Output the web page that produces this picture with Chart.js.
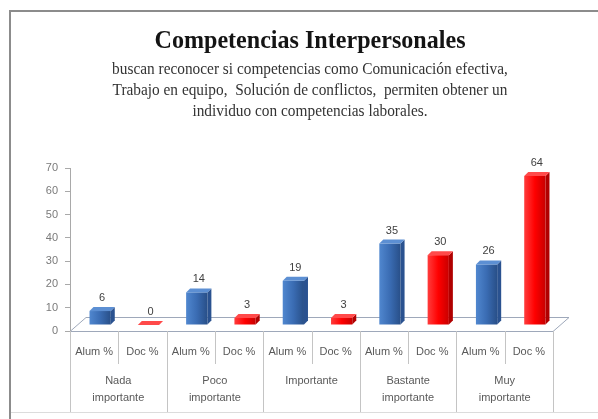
<!DOCTYPE html>
<html>
<head>
<meta charset="utf-8">
<script src="https://cdn.jsdelivr.net/npm/chart.js@4.4.1/dist/chart.umd.min.js"></script>
<style>
  html, body { margin: 0; padding: 0; background: #fff; }
  #wrap { width: 598px; height: 419px; position: relative; }
</style>
</head>
<body>
<div id="wrap"><canvas id="chart"></canvas></div>
<script>
// groups along the x axis (two-line labels) and the two series inside each group
const categories = [['Nada', 'importante'], ['Poco', 'importante'], ['Importante'], ['Bastante', 'importante'], ['Muy', 'importante']];
const seriesNames = ['Alum %', 'Doc %'];
const alumValues = [6, 14, 19, 35, 26];
const docValues = [0, 3, 3, 30, 64];
const yTicks = { min: 0, max: 70, step: 10 };

const titleText = 'Competencias Interpersonales';
const subtitleLines = [
  'buscan reconocer si competencias como Comunicación efectiva,',
  'Trabajo en equipo,  Solución de conflictos,  permiten obtener un',
  'individuo con competencias laborales.'
];

const seriesColors = ['#3a6cb3', '#ff0000'];
// light / mid / dark shades for the faces of each 3d column
const shades = {
  '#3a6cb3': { light: '#5087cf', dark: '#284f88', top: '#5c8fd3', side: '#2a5290' },
  '#ff0000': { light: '#ff3c3c', dark: '#c80000', top: '#ff4a4a', side: '#b00000' }
};

// interleave the two series per group
const labels = [], values = [], colors = [];
categories.forEach((c, i) => {
  labels.push(seriesNames[0]); values.push(alumValues[i]); colors.push(seriesColors[0]);
  labels.push(seriesNames[1]); values.push(docValues[i]); colors.push(seriesColors[1]);
});

const DEPTH = 4;      // extrusion of the column top / side
const SHIFT = 6;      // columns sit half way back on the floor
const FLOOR_DX = 16, FLOOR_DY = 14;
const TITLE_CX = 310;

function condensedText(ctx, text, x, y, font, color, scaleX) {
  ctx.save();
  ctx.font = font;
  ctx.fillStyle = color;
  ctx.textAlign = 'center';
  ctx.textBaseline = 'alphabetic';
  ctx.translate(x, y);
  ctx.scale(scaleX, 1);
  ctx.fillText(text, 0, 0);
  ctx.restore();
}

const pageFrame = {
  id: 'pageFrame',
  beforeDraw(chart) {
    const { ctx, width, height } = chart;
    ctx.save();
    ctx.fillStyle = '#fff';
    ctx.fillRect(0, 0, width, height);
    // slide border
    ctx.fillStyle = '#8c8c8c';
    ctx.fillRect(9, 10, 2, height - 10);
    ctx.fillRect(9, 10, width - 9, 2);
    ctx.fillStyle = '#dcdcdc';
    ctx.fillRect(11, 412, width - 11, 1);
    ctx.restore();

    // heading
    ctx.save();
    ctx.font = 'bold 25px "Liberation Serif"';
    const w = ctx.measureText(titleText).width;
    ctx.restore();
    condensedText(ctx, titleText, TITLE_CX, 48, 'bold 25px "Liberation Serif"', '#141414', 311 / w);

    const baselines = [74, 95, 116];
    subtitleLines.forEach((line, i) => {
      condensedText(ctx, line, TITLE_CX, baselines[i], '16.5px "Liberation Serif"', '#333333', 0.93);
    });
  }
};

const bars3d = {
  id: 'bars3d',
  beforeDatasetsDraw(chart) {
    const { ctx, chartArea } = chart;
    const yBase = chart.scales.y.getPixelForValue(0);

    // floor
    ctx.save();
    ctx.strokeStyle = '#9ea8ba';
    ctx.lineWidth = 1;
    ctx.beginPath();
    ctx.moveTo(chartArea.left, yBase + 0.5);
    ctx.lineTo(chartArea.right, yBase + 0.5);
    ctx.lineTo(chartArea.right + FLOOR_DX, yBase - FLOOR_DY + 0.5);
    ctx.lineTo(chartArea.left + FLOOR_DX, yBase - FLOOR_DY + 0.5);
    ctx.closePath();
    ctx.stroke();

    const meta = chart.getDatasetMeta(0);
    const bg = chart.data.datasets[0].backgroundColor;
    meta.data.forEach((bar, i) => {
      const p = bar.getProps(['x', 'y', 'base', 'width'], true);
      const s = shades[bg[i]];
      const l = p.x - p.width / 2 + SHIFT, r = p.x + p.width / 2 + SHIFT;
      const t = p.y - SHIFT, b = p.base - SHIFT;

      // side
      ctx.fillStyle = s.side;
      ctx.beginPath();
      ctx.moveTo(r, t); ctx.lineTo(r + DEPTH, t - DEPTH);
      ctx.lineTo(r + DEPTH, b - DEPTH); ctx.lineTo(r, b);
      ctx.closePath(); ctx.fill();

      // front
      if (b - t > 0) {
        const g = ctx.createLinearGradient(l, 0, r, 0);
        g.addColorStop(0, s.light);
        g.addColorStop(0.5, bg[i]);
        g.addColorStop(1, s.dark);
        ctx.fillStyle = g;
        ctx.fillRect(l, t, r - l, b - t);
      }

      // top
      ctx.fillStyle = s.top;
      ctx.beginPath();
      ctx.moveTo(l, t); ctx.lineTo(l + DEPTH, t - DEPTH);
      ctx.lineTo(r + DEPTH, t - DEPTH); ctx.lineTo(r, t);
      ctx.closePath(); ctx.fill();
    });
    ctx.restore();
    return false;
  },
  afterDraw(chart) {
    const { ctx, chartArea } = chart;
    const meta = chart.getDatasetMeta(0);
    const vals = chart.data.datasets[0].data;
    ctx.save();
    ctx.font = '11px "Liberation Sans"';
    ctx.fillStyle = '#404040';
    ctx.textAlign = 'center';
    ctx.textBaseline = 'alphabetic';
    meta.data.forEach((bar, i) => {
      const p = bar.getProps(['x', 'y'], true);
      ctx.fillText(String(vals[i]), p.x + SHIFT + DEPTH / 2, p.y - SHIFT - DEPTH - 6);
    });

    // two-level category axis
    const xs = chart.scales.x;
    const n = labels.length;
    const slot = (chartArea.right - chartArea.left) / n;
    const top = chart.scales.y.getPixelForValue(0);
    ctx.strokeStyle = '#c4c4c4';
    ctx.lineWidth = 1;
    for (let k = 0; k <= n; k++) {
      const x = Math.round(chartArea.left + slot * k) + 0.5;
      ctx.beginPath();
      ctx.moveTo(x, top);
      ctx.lineTo(x, k % 2 === 0 ? 412 : 364);
      ctx.stroke();
    }
    ctx.fillStyle = '#595959';
    ctx.textBaseline = 'middle';
    labels.forEach((lab, i) => {
      ctx.fillText(lab, xs.getPixelForValue(i), 352);
    });
    categories.forEach((c, k) => {
      const cx = (xs.getPixelForValue(2 * k) + xs.getPixelForValue(2 * k + 1)) / 2;
      c.forEach((line, j) => ctx.fillText(line, cx, 381 + j * 17));
    });
    ctx.restore();
  }
};

new Chart(document.getElementById('chart'), {
  type: 'bar',
  data: {
    labels: labels,
    datasets: [{
      data: values,
      backgroundColor: colors,
      categoryPercentage: 1,
      barPercentage: 0.44
    }]
  },
  options: {
    responsive: true,
    maintainAspectRatio: false,
    animation: false,
    layout: { padding: { left: 10, right: 45, top: 168, bottom: 88 } },
    plugins: {
      legend: { display: false },
      tooltip: { enabled: false }
    },
    scales: {
      x: { display: false },
      y: {
        min: yTicks.min,
        max: yTicks.max,
        ticks: {
          stepSize: yTicks.step,
          padding: 7,
          color: '#7a7a7a',
          font: { family: 'Liberation Sans', size: 11 }
        },
        grid: { drawOnChartArea: false, tickLength: 5, color: '#a9a9a9' },
        border: { color: '#a9a9a9' },
        afterFit(scale) { scale.width = 60; }
      }
    }
  },
  plugins: [pageFrame, bars3d]
});
</script>
</body>
</html>
